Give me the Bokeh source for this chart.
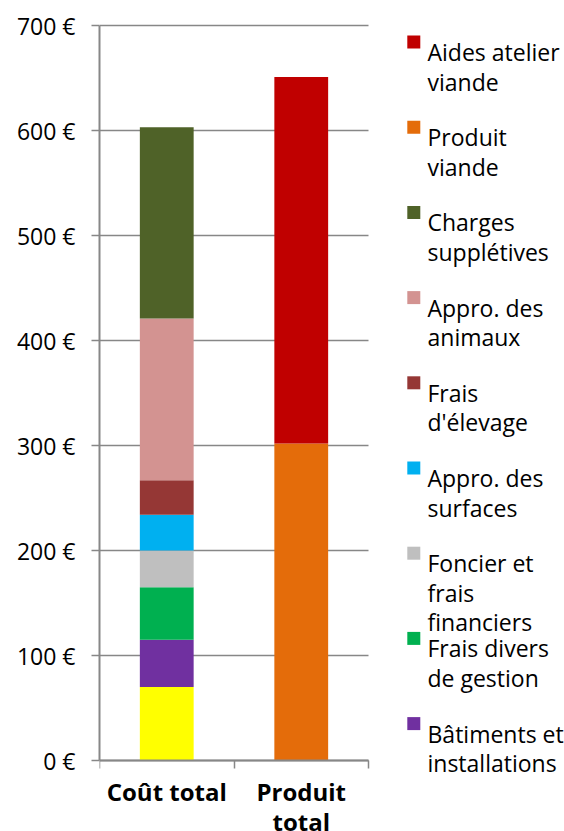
from bokeh.plotting import figure
from bokeh.models import Range1d, FixedTicker, PrintfTickFormatter, ColumnDataSource
from bokeh.embed import file_html
from bokeh.resources import INLINE
from bokeh.core.properties import value

# ---------------- data ----------------
categories = ["Coût total", "Produit total"]
category_lines = [["Coût total"], ["Produit", "total"]]

series = ["Main-d'œuvre", "Bâtiments et installations", "Frais divers de gestion",
          "Foncier et frais financiers", "Appro. des surfaces", "Frais d'élevage",
          "Appro. des animaux", "Charges supplétives", "Produit viande",
          "Aides atelier viande"]
values_main_oeuvre = [70, 0]
values_batiments = [45, 0]
values_frais_divers = [50, 0]
values_foncier = [35, 0]
values_appro_surfaces = [34, 0]
values_frais_elevage = [33, 0]
values_appro_animaux = [154, 0]
values_charges_suppl = [182, 0]
values_produit_viande = [0, 302]
values_aides = [0, 349]
colors = ["#FFFF00", "#7030A0", "#00B050", "#BFBFBF", "#00B0F0", "#953735",
          "#D39391", "#4F6228", "#E46C0A", "#C00000"]

# legend as displayed (top to bottom), wrapped as in the original
legend_lines = [["Aides atelier", "viande"], ["Produit", "viande"],
                ["Charges", "supplétives"], ["Appro. des", "animaux"],
                ["Frais", "d'élevage"], ["Appro. des", "surfaces"],
                ["Foncier et", "frais", "financiers"], ["Frais divers", "de gestion"],
                ["Bâtiments et", "installations"]]
legend_colors = colors[::-1][:len(legend_lines)]

y_ticks = [0, 100, 200, 300, 400, 500, 600, 700]
y_max = 700

FONT = "Open Sans"
GREY = "#878787"

# ---------------- layout (pixels) ----------------
W, H = 564, 831
frame_left, frame_top = 99, 15
plot_right = 368          # right end of the category area
zero_px = 760             # pixel row of the value 0
px_per_unit = (zero_px - 25) / y_max
n = len(categories)
px_per_cat = (plot_right - frame_left) / n

all_values = [values_main_oeuvre, values_batiments, values_frais_divers, values_foncier,
              values_appro_surfaces, values_frais_elevage, values_appro_animaux,
              values_charges_suppl, values_produit_viande, values_aides]
xs = [i + 0.5 for i in range(n)]
data = {"x": xs}
for name, vals in zip(series, all_values):
    data[name] = vals
source = ColumnDataSource(data)

p = figure(width=W, height=H, output_backend="svg", toolbar_location=None,
           x_range=Range1d(0, (W - frame_left) / px_per_cat),
           y_range=Range1d(-(H - zero_px) / px_per_unit, (zero_px - frame_top) / px_per_unit),
           min_border_left=frame_left, min_border_right=0, min_border_top=frame_top,
           min_border_bottom=0, title=None)
p.outline_line_color = None
p.extra_x_ranges = {"px": Range1d(frame_left, W)}
p.extra_y_ranges = {"py": Range1d(H, frame_top)}

# horizontal gridlines limited to the category area
p.segment(x0=[0] * len(y_ticks), x1=[n] * len(y_ticks), y0=y_ticks, y1=y_ticks,
          line_color=GREY, line_width=1.3)

p.vbar_stack(series, x="x", width=0.4, color=colors, source=source, line_width=0)

p.xgrid.visible = False
p.ygrid.visible = False

ya = p.yaxis[0]
ya.bounds = (0, y_max)
ya.ticker = FixedTicker(ticks=y_ticks)
ya.formatter = PrintfTickFormatter(format="%d €")
ya.axis_line_color = GREY
ya.axis_line_width = 2
ya.major_tick_line_color = GREY
ya.major_tick_line_width = 1.3
ya.major_tick_out = 8
ya.major_tick_in = 0
ya.minor_tick_line_color = None
ya.major_label_standoff = 16
ya.major_label_text_font = FONT
ya.major_label_text_font_size = "23px"
ya.major_label_text_color = "black"

xa = p.xaxis[0]
xa.fixed_location = 0
xa.bounds = (0, n)
xa.ticker = FixedTicker(ticks=xs, minor_ticks=list(range(n + 1)))
xa.major_label_overrides = {x: "\n".join(lines) for x, lines in zip(xs, category_lines)}
xa.axis_line_color = GREY
xa.axis_line_width = 2
xa.major_tick_line_color = None
xa.major_tick_out = 0
xa.major_tick_in = 0
xa.minor_tick_line_color = GREY
xa.minor_tick_line_width = 1.5
xa.minor_tick_out = 8
xa.minor_tick_in = 0
xa.major_label_standoff = 6
xa.major_label_text_font = FONT
xa.major_label_text_font_style = "bold"
xa.major_label_text_font_size = "24px"
xa.major_label_text_color = "black"
xa.major_label_text_line_height = 0.92

# ---------------- legend (pixel coordinates) ----------------
first_baseline = 51.5
entry_step = 85.2
line_step = 29.5
sq_x, sq_size, text_x = 413.3, 13, 427

sx, sy, sc = [], [], []
tx, ty, tt = [], [], []
for k, (lines, col) in enumerate(zip(legend_lines, legend_colors)):
    base = first_baseline + k * entry_step
    sx.append(sq_x)
    sy.append(base - 10)
    sc.append(col)
    for j, line in enumerate(lines):
        tx.append(text_x)
        ty.append(base + j * line_step)
        tt.append(line)

p.rect(x=sx, y=sy, width=sq_size, height=sq_size, color=sc, line_width=0,
       x_range_name="px", y_range_name="py")
p.text(x=tx, y=ty, text=tt, text_font=value(FONT), text_font_size="23px",
       text_color="black", text_align="left", text_baseline="alphabetic",
       x_range_name="px", y_range_name="py")

open("out.html", "w").write(file_html(p, INLINE))
